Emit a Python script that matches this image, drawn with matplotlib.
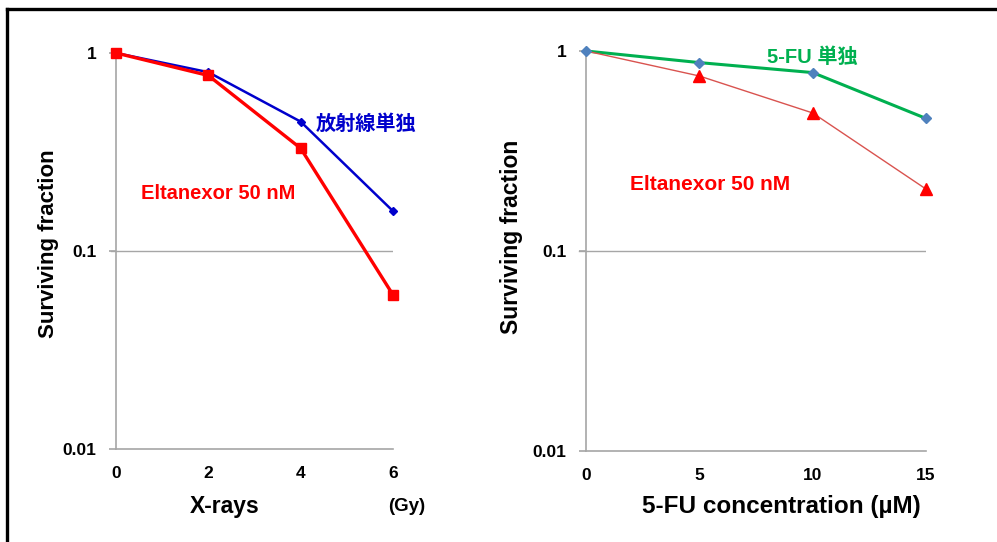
import matplotlib
matplotlib.use("Agg")
import matplotlib.pyplot as plt
from matplotlib.lines import Line2D
from matplotlib.ticker import FixedLocator, FixedFormatter, NullLocator

plt.rcParams['font.family'] = ['Liberation Sans', 'Noto Sans CJK JP', 'DejaVu Sans']
plt.rcParams['font.weight'] = 'bold'
plt.rcParams['axes.labelweight'] = 'bold'

# Datos: radiación (Gy)
dosis_gy = [0, 2, 4, 6]
sf_rayos_x = [1.0, 0.80, 0.45, 0.159]
sf_rayos_x_eltanexor = [1.0, 0.77, 0.33, 0.060]

# Datos: 5-FU (µM)
conc_5fu = [0, 5, 10, 15]
sf_5fu = [1.0, 0.875, 0.78, 0.46]
sf_5fu_eltanexor = [1.0, 0.75, 0.49, 0.204]

y_ticks = [0.01, 0.1, 1]
y_tick_labels = ["0.01", "0.1", "1"]

gris = "#a6a6a6"

fig = plt.figure(figsize=(9.97, 5.42), dpi=100)
ax1 = fig.add_axes([0.1164, 0.1716, 0.2778, 0.7306])
ax2 = fig.add_axes([0.5878, 0.1679, 0.3410, 0.7380])


def estilo_ejes(ax, xmax, xticks):
    ax.set_yscale("log")
    ax.set_ylim(0.01, 1)
    ax.set_xlim(0, xmax)
    ax.yaxis.set_major_locator(FixedLocator(y_ticks))
    ax.yaxis.set_major_formatter(FixedFormatter(y_tick_labels))
    ax.yaxis.set_minor_locator(NullLocator())
    ax.set_xticks(xticks)
    ax.set_xticklabels([str(t) for t in xticks])
    for s in ["top", "right"]:
        ax.spines[s].set_visible(False)
    for s in ["left", "bottom"]:
        ax.spines[s].set_color(gris)
        ax.spines[s].set_linewidth(1.2)
    ax.tick_params(axis="y", length=5, color=gris, width=1.2, pad=9, labelsize=12.5)
    ax.tick_params(axis="x", length=0, pad=12, labelsize=12.5)
    ax.axhline(0.1, color=gris, lw=1.0, zorder=0)
    # extensión de la línea de 0.1 a la izquierda del eje
    ax.plot([-0.02, 0], [0.1, 0.1], transform=ax.get_yaxis_transform(), color=gris,
            lw=1.0, clip_on=False)


estilo_ejes(ax1, 6, dosis_gy)
estilo_ejes(ax2, 15, [0, 5, 10, 15])

# Gráfico izquierdo
ax1.plot(dosis_gy, sf_rayos_x, color="#0000cc", lw=1.8, marker="D", ms=4.5,
         clip_on=False, zorder=3)
ax1.plot(dosis_gy, sf_rayos_x_eltanexor, color="#ff0000", lw=2.4, marker="s", ms=7.5,
         clip_on=False, zorder=4)
ax1.text(5.42, 0.443, "放射線単独", color="#0000cc", fontsize=14.5, ha="center", va="center",
         family=["Noto Sans CJK JP"], fontweight="bold")
ax1.text(2.21, 0.196, "Eltanexor 50 nM", color="#ff0000", fontsize=14.5, ha="center",
         va="center")
ax1.set_ylabel("Surviving fraction", fontsize=16, va="center")
ax1.yaxis.set_label_coords(-0.245, 0.518)
ax1.set_xlabel("X-rays", fontsize=16.5, va="center")
ax1.xaxis.set_label_coords(0.393, -0.146)
ax1.text(1.05, -0.146, "(Gy)", transform=ax1.transAxes, fontsize=13.5, ha="center", va="center")

# Gráfico derecho
ax2.plot(conc_5fu, sf_5fu, color="#00b050", lw=2.2, zorder=3, clip_on=False)
ax2.plot(conc_5fu, sf_5fu, ls="none", marker="D", ms=5.5, color="#4f81bd",
         zorder=5, clip_on=False)
ax2.plot(conc_5fu, sf_5fu_eltanexor, color="#d9534f", lw=1.0, zorder=3, clip_on=False)
ax2.plot(conc_5fu[1:], sf_5fu_eltanexor[1:], ls="none", marker="^", ms=8.5, color="#ff0000",
         zorder=4, clip_on=False)
ax2.text(10.0, 0.933, "5-FU 単独", color="#00b050", fontsize=14.5, ha="center", va="center",
         family=["Liberation Sans", "Noto Sans CJK JP"], fontweight="bold")
ax2.text(5.47, 0.216, "Eltanexor 50 nM", color="#ff0000", fontsize=15, ha="center",
         va="center")
ax2.set_ylabel("Surviving fraction", fontsize=16.5, va="center")
ax2.yaxis.set_label_coords(-0.218, 0.535)
ax2.set_xlabel("5-FU concentration (µM)", fontsize=17.5, va="center")
ax2.xaxis.set_label_coords(0.576, -0.14)

# Marco de la figura (solo arriba e izquierda)
fig.add_artist(Line2D([7 / 997, 1.0], [1 - 9 / 542, 1 - 9 / 542], color="black", lw=2.4))
fig.add_artist(Line2D([7 / 997, 7 / 997], [0.0, 1 - 9 / 542], color="black", lw=2.4))

fig.savefig("out.png", dpi=100)
